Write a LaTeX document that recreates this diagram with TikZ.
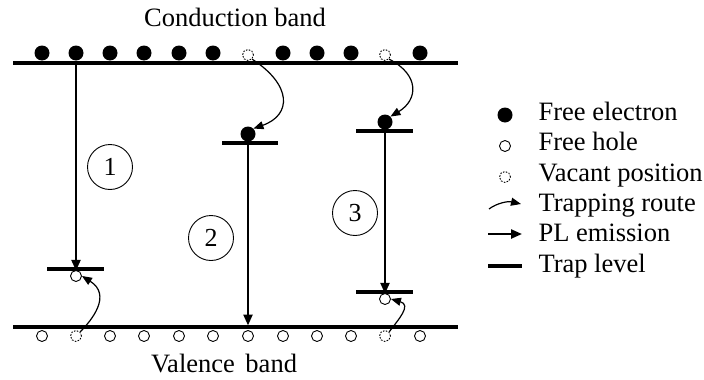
\documentclass[tikz,border=0pt]{standalone}
\usepackage{fontspec}
\setmainfont{Liberation Serif}
\usetikzlibrary{arrows.meta}
\begin{document}
\begin{tikzpicture}[x=1pt,y=-1pt,
 electron/.style={circle,fill=black,inner sep=0pt,minimum size=15pt},
 hole/.style={circle,draw=black,line width=0.9pt,fill=white,inner sep=0pt,minimum size=11pt},
 vacant/.style={hole,dash pattern=on 1.6pt off 1.4pt},
 band/.style={line width=3.6pt},
 trap/.style={line width=3.6pt},
 pl/.style={line width=2.3pt,-{Triangle[length=11pt,width=9pt]}},
 route/.style={line width=1.2pt,-{Triangle[length=10pt,width=8pt]}},
 num/.style={circle,draw,line width=0.9pt,minimum size=45pt,inner sep=0pt,font=\fontsize{26}{26}\selectfont},
 lbl/.style={font=\fontsize{26.5}{27}\selectfont},
 ]
\useasboundingbox (0,0) rectangle (704,380);
% bands
\coordinate (cbL) at (13,63); \coordinate (cbR) at (458,63);
\coordinate (vbL) at (13,327); \coordinate (vbR) at (458,327);
\draw[band] (cbL) -- (cbR);
\draw[band] (vbL) -- (vbR);
\node[lbl,anchor=base] (cb) at (235,27) {Conduction band};
\node[lbl,anchor=base] (vb) at (224,372) {Valence\hspace{0.4em}band};
% electrons on conduction band
\foreach \i/\x in {1/42,2/76,3/110,4/144,5/179,6/213,8/283,9/317,10/351,12/420}
  \node[electron] (e\i) at (\x,53) {};
\node[vacant] (e7) at (248,55) {};
\node[vacant] (e11) at (385,55) {};
% holes on valence band
\foreach \i/\x in {1/42,3/110,4/144,5/179,6/213,7/248,8/283,9/317,10/351,12/420}
  \node[hole] (h\i) at (\x,336) {};
\node[vacant] (h2) at (76,336) {};
\node[vacant] (h11) at (385,336) {};
% trap levels
\coordinate (t1L) at (47,269); \coordinate (t1R) at (104,269); \coordinate (t1) at (76,269);
\coordinate (t2L) at (222,143); \coordinate (t2R) at (278,143); \coordinate (t2) at (248,143);
\coordinate (t3L) at (356,131); \coordinate (t3R) at (413,131); \coordinate (t3) at (385,131);
\coordinate (t4L) at (356,292); \coordinate (t4R) at (413,292); \coordinate (t4) at (385,292);
\draw[trap] (t1L) -- (t1R);
\draw[trap] (t2L) -- (t2R);
\draw[trap] (t3L) -- (t3R);
\draw[trap] (t4L) -- (t4R);
% trapped carriers
\node[electron] (te2) at (248,134) {};
\node[electron] (te3) at (385,122) {};
\node[hole] (th1) at (76,276) {};
\node[hole] (th4) at (385,299) {};
% PL emission
\coordinate (b2) at (248,325.5);
\draw[pl] (e2.south) -- ([yshift=-1.8pt]t1);
\draw[pl] ([yshift=1.8pt]t2) -- (b2);
\draw[pl] ([yshift=1.8pt]t3) -- ([yshift=-1.8pt]t4);
% trapping routes
\draw[route] (e7.south east) .. controls (292,85) and (292,115) .. (te2.north east);
\draw[route] (e11.south east) .. controls (420,75) and (418,100) .. (te3.north east);
\draw[route] (h2.north east) .. controls (92,320) and (112,295) .. (th1.east);
\draw[route] (h11.north east) .. controls (398,320) and (412,305) .. (th4.east);
% numbers
\node[num] (n1) at (110,167) {1};
\node[num] (n2) at (211,238) {2};
\node[num] (n3) at (355,213) {3};
% legend
\node[electron] (le) at (505,115) {};
\node[hole] (lh) at (505,146) {};
\node[vacant] (lv) at (505,177) {};
\coordinate (lr1) at (489,209); \coordinate (lr2) at (521,204);
\draw[route] (lr1) .. controls (497,203) and (508,201) .. (lr2);
\coordinate (lp1) at (488,234); \coordinate (lp2) at (522,234);
\draw[pl] (lp1) -- (lp2);
\coordinate (ll1) at (488,266); \coordinate (ll2) at (522,266);
\draw[trap] (ll1) -- (ll2);
\node[lbl,anchor=base west] (tle) at (535,120) {Free electron};
\node[lbl,anchor=base west] (tlh) at (535,150) {Free hole};
\node[lbl,anchor=base west] (tlv) at (535,181) {Vacant position};
\node[lbl,anchor=base west] (tlr) at (535,211) {Trapping route};
\node[lbl,anchor=base west] (tlp) at (535,241) {PL emission};
\node[lbl,anchor=base west] (tll) at (535,272) {Trap level};
\end{tikzpicture}
\end{document}
